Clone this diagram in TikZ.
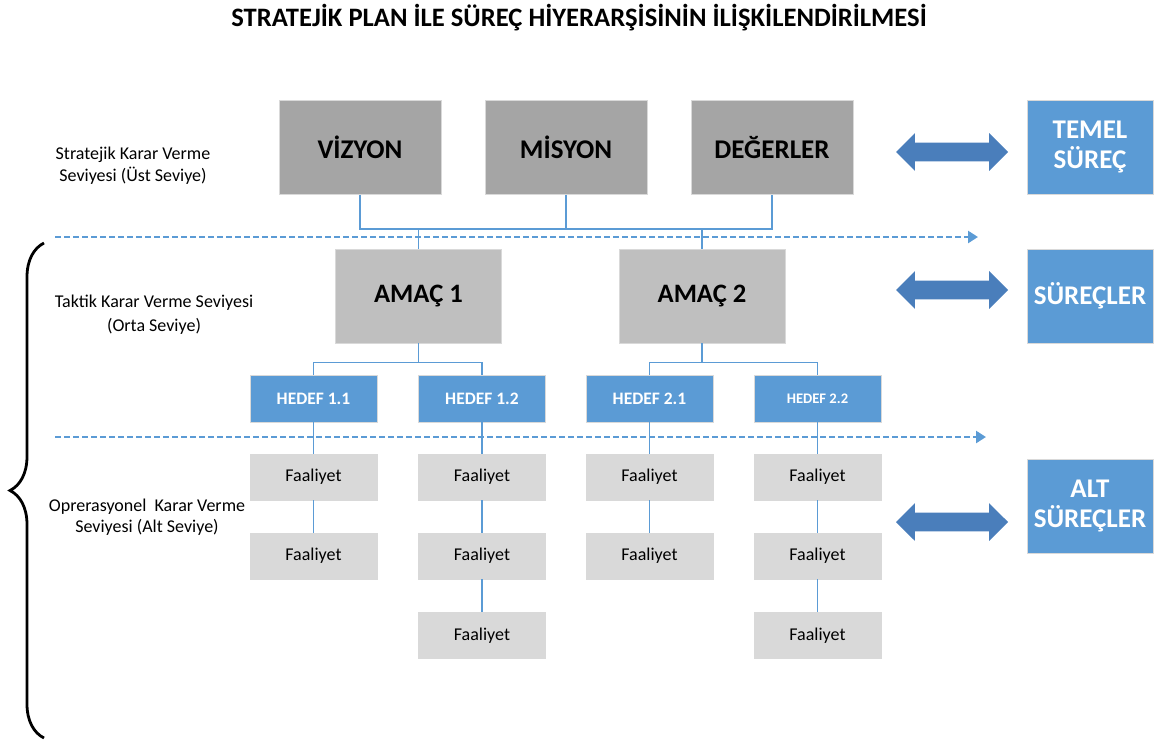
\documentclass[tikz,border=0pt]{standalone}
\usepackage{fontspec}
\setmainfont{Carlito}
\usepackage{tikz}
\usetikzlibrary{shapes, arrows, arrows.meta, decorations.pathreplacing}
\definecolor{topgray}{RGB}{165,165,165}
\definecolor{midgray}{RGB}{191,191,191}
\definecolor{lowgray}{RGB}{217,217,217}
\definecolor{boxblue}{RGB}{91,155,213}
\definecolor{arrowblue}{RGB}{74,126,187}
\tikzstyle{topbox} = [rectangle, draw=black!15, fill=topgray, text centered, minimum width=81pt, minimum height=47pt, font=\fontsize{13.5}{15}\selectfont\bfseries]
\tikzstyle{goalbox} = [rectangle, draw=black!15, fill=midgray, text centered, minimum width=83pt, minimum height=47pt, font=\fontsize{13.3}{15}\selectfont\bfseries]
\tikzstyle{targetbox} = [rectangle, draw=black!15, fill=boxblue, text=white, text centered, minimum width=63.5pt, minimum height=23.5pt, font=\fontsize{8.75}{10}\selectfont\bfseries]
\tikzstyle{taskbox} = [rectangle, draw=black!15, fill=lowgray, text centered, minimum width=63.5pt, minimum height=23pt, font=\fontsize{9}{10}\selectfont]
\tikzstyle{processbox} = [rectangle, draw=black!15, fill=boxblue, text=white, align=center, minimum width=63pt, minimum height=47pt, font=\fontsize{13.5}{15}\selectfont\bfseries]
\tikzstyle{levelnote} = [align=center, font=\fontsize{9}{11}\selectfont]
\tikzstyle{twoway} = [double arrow, fill=arrowblue, draw=none, inner xsep=0pt, inner ysep=4.5pt, minimum height=56pt, minimum width=18.5pt, double arrow head extend=4.75pt]
\tikzstyle{link} = [draw, color=boxblue, line width=0.75pt]
\tikzstyle{divider} = [draw, color=boxblue, line width=1.3pt, dash pattern=on 3pt off 1.5pt, -{Triangle[length=5pt,width=6pt]}]

\begin{document}
\begin{tikzpicture}[x=0.5pt, y=-0.5pt]
\useasboundingbox (0,0) rectangle (1163,745);

\node[font=\fontsize{13.3}{15}\selectfont\bfseries] at (579,18) (title) {STRATEJİK PLAN İLE SÜREÇ HİYERARŞİSİNİN İLİŞKİLENDİRİLMESİ};

\node [topbox] at (360,147.5) (vizyon) {VİZYON};
\node [topbox] at (566,147.5) (misyon) {MİSYON};
\node [topbox] at (772,147.5) (degerler) {DEĞERLER};

\node [goalbox] at (418.5,296) (amac1) {AMAÇ 1};
\node [goalbox] at (702,296) (amac2) {AMAÇ 2};

\node [targetbox] at (313.5,398.5) (hedef11) {HEDEF 1.1};
\node [targetbox] at (482,398.5) (hedef12) {HEDEF 1.2};
\node [targetbox] at (649.5,398.5) (hedef21) {HEDEF 2.1};
\node [targetbox, font=\fontsize{7.3}{9}\selectfont\bfseries] at (817.5,398.5) (hedef22) {HEDEF 2.2};

\node [taskbox] at (313.5,477) (task11a) {Faaliyet};
\node [taskbox] at (313.5,556) (task11b) {Faaliyet};
\node [taskbox] at (482,477) (task12a) {Faaliyet};
\node [taskbox] at (482,556) (task12b) {Faaliyet};
\node [taskbox] at (482,635.5) (task12c) {Faaliyet};
\node [taskbox] at (649.5,477) (task21a) {Faaliyet};
\node [taskbox] at (649.5,556) (task21b) {Faaliyet};
\node [taskbox] at (817.5,477) (task22a) {Faaliyet};
\node [taskbox] at (817.5,556) (task22b) {Faaliyet};
\node [taskbox] at (817.5,635.5) (task22c) {Faaliyet};

\node [processbox] at (1090,147.5) (temel) {TEMEL\\SÜREÇ};
\node [processbox] at (1090,296) (surecler) {SÜREÇLER};
\node [processbox] at (1090,506) (alt) {ALT\\SÜREÇLER};

\node [twoway] at (952,152) (arrow_1) {};
\node [twoway] at (952,290) (arrow_2) {};
\node [twoway] at (952,522) (arrow_3) {};

\node [levelnote] at (133,166) (text_1) {Stratejik Karar Verme\\Seviyesi (Üst Seviye)};
\node [levelnote, font=\fontsize{9}{12}\selectfont] at (154,315) (text_2) {Taktik Karar Verme Seviyesi\\(Orta Seviye)};
\node [levelnote, font=\fontsize{9}{10.5}\selectfont] at (147,517) (text_3) {Oprerasyonel\ \ Karar Verme\\Seviyesi (Alt Seviye)};

\coordinate (line1_start) at (55,237);
\coordinate (line1_end) at (978,237);
\coordinate (line2_start) at (55,437);
\coordinate (line2_end) at (986,437);
\coordinate (brace_top) at (44,243);
\coordinate (brace_bottom) at (44,738);

\path [link] (vizyon.south) -- ++(0,34) -| (degerler.south);
\path [link] (misyon.south) -- ++(0,34);
\path [link] (amac1.north) -- ++(0,-21);
\path [link] (amac2.north) -- ++(0,-21);

\path [link] (hedef11.north) -- ++(0,-12) -| (hedef12.north);
\path [link] (amac1.south) -- ++(0,20);
\path [link] (hedef21.north) -- ++(0,-12) -| (hedef22.north);
\path [link] (amac2.south) -- ++(0,20);

\path [link] (hedef11) -- (task11a);
\path [link] (task11a) -- (task11b);
\path [link] (hedef12) -- (task12a);
\path [link] (task12a) -- (task12b);
\path [link] (task12b) -- (task12c);
\path [link] (hedef21) -- (task21a);
\path [link] (task21a) -- (task21b);
\path [link] (hedef22) -- (task22a);
\path [link] (task22a) -- (task22b);
\path [link] (task22b) -- (task22c);

\path [divider] (line1_start) -- (line1_end);
\path [divider] (line2_start) -- (line2_end);

\draw [line width=1.4pt, decorate, decoration={brace, amplitude=17pt}] (brace_bottom) -- (brace_top);

\end{tikzpicture}
\end{document}
